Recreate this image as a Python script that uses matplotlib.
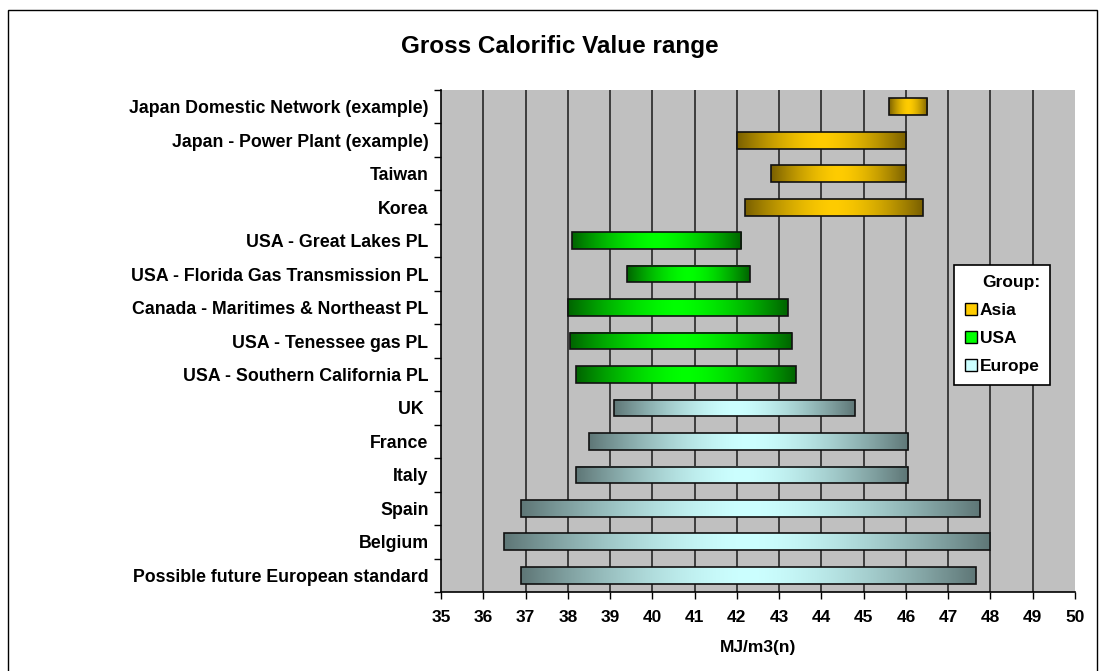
import numpy as np
import matplotlib
matplotlib.use("Agg")
import matplotlib.pyplot as plt
from matplotlib.patches import Rectangle
from matplotlib.lines import Line2D
from matplotlib.colors import to_rgb

categories = [
    "Japan Domestic Network (example)",
    "Japan - Power Plant (example)",
    "Taiwan",
    "Korea",
    "USA - Great Lakes PL",
    "USA - Florida Gas Transmission PL",
    "Canada - Maritimes & Northeast PL",
    "USA - Tenessee gas PL",
    "USA - Southern California PL",
    "UK ",
    "France",
    "Italy",
    "Spain",
    "Belgium",
    "Possible future European standard",
]
range_low = [45.6, 42.0, 42.8, 42.2, 38.1, 39.4, 38.0, 38.05, 38.2, 39.1, 38.5, 38.2, 36.9, 36.5, 36.9]
range_high = [46.5, 46.0, 46.0, 46.4, 42.1, 42.3, 43.2, 43.3, 43.4, 44.8, 46.05, 46.05, 47.75, 48.0, 47.65]
groups = ["Asia"] * 4 + ["USA"] * 5 + ["Europe"] * 6
group_names = ["Asia", "USA", "Europe"]
group_colors = {
    "Asia": ("#7a6000", "#ffcc00"),
    "USA": ("#006400", "#00ff00"),
    "Europe": ("#5f7777", "#ccffff"),
}
x_ticks = list(range(35, 51))

plt.rcParams['font.family'] = ['Liberation Sans', 'DejaVu Sans']
fig = plt.figure(figsize=(10.99, 6.71), dpi=100)
ax = fig.add_axes([441 / 1099, 1 - 592 / 671, (1075 - 441) / 1099, (592 - 90) / 671])
ax.set_facecolor("#c0c0c0")

n = len(categories)
ypos = np.arange(n)
bar_h = 0.5
xs = np.linspace(0, 1, 200)
prof = 1 - np.abs(2 * xs - 1) ** 1.6

for y, lo, hi, g in zip(ypos, range_low, range_high, groups):
    dark, light = (np.array(to_rgb(c)) for c in group_colors[g])
    img = dark[None, :] + (light - dark)[None, :] * prof[:, None]
    img = img[None, :, :]
    ax.imshow(img, extent=(lo, hi, y + bar_h / 2, y - bar_h / 2), aspect='auto',
              interpolation='bilinear', zorder=3)
    ax.add_patch(Rectangle((lo, y - bar_h / 2), hi - lo, bar_h, fill=False,
                           edgecolor="#111111", lw=1.2, zorder=4))

ax.set_xlim(35, 50)
ax.set_ylim(n - 0.5, -0.5)
ax.set_aspect('auto')
ax.set_xticks(x_ticks)
ax.set_xticklabels([str(t) for t in x_ticks], fontsize=12.5, fontweight='bold')
for xv in x_ticks[1:-1]:
    ax.axvline(xv, color="#1a1a1a", lw=1.1, zorder=1)
ax.set_yticks(ypos)
ax.set_yticklabels(categories, fontsize=12.8, fontweight='bold')
ax.set_yticks(np.arange(-0.5, n, 1), minor=True)
ax.tick_params(axis='y', which='major', length=0, pad=9)
ax.tick_params(axis='y', which='minor', length=5, width=1, direction='out')
ax.tick_params(axis='x', which='major', length=5, width=1, direction='out', pad=8)
for s in ['top', 'right']:
    ax.spines[s].set_visible(False)
ax.spines['left'].set_linewidth(1.2)
ax.spines['bottom'].set_linewidth(1.2)
ax.set_xlabel("MJ/m3(n)", fontsize=12.5, fontweight='bold', labelpad=11)

fig.text(560 / 1099, 1 - 47 / 671, "Gross Calorific Value range", ha='center', va='center',
         fontsize=17.5, fontweight='bold')

handles = [Line2D([], [], marker='s', linestyle='none', markersize=8,
                  markerfacecolor=group_colors[gname][1], markeredgecolor='black')
           for gname in group_names]
leg = ax.legend(handles, group_names, title="Group:", loc='upper left',
                bbox_to_anchor=((954 - 441) / 634, 1 - (265 - 90) / 502),
                frameon=True, fancybox=False, edgecolor='black', facecolor='white',
                framealpha=1, prop={'weight': 'bold', 'size': 12.5},
                title_fontproperties={'weight': 'bold', 'size': 12.5},
                handletextpad=0.1, handlelength=0.8, borderpad=0.6, labelspacing=0.75,
                borderaxespad=0)
leg._legend_box.align = "right"
leg._legend_box.sep = 9
leg.get_frame().set_linewidth(1.2)
leg.set_zorder(10)

fig.patches.append(Rectangle((8 / 1099, -0.02), (1097 - 8) / 1099, 1 - 10 / 671 + 0.02,
                             transform=fig.transFigure, fill=False, edgecolor='black', lw=1))

fig.savefig("out.png", dpi=100)
